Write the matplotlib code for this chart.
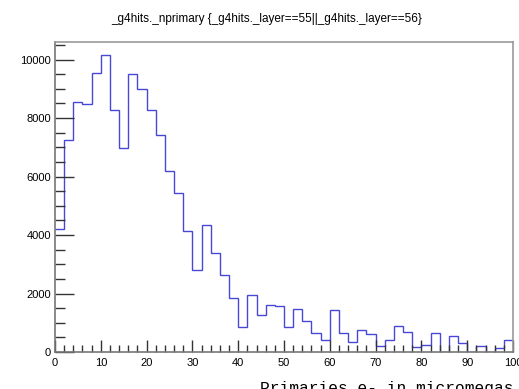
import numpy as np
import matplotlib
matplotlib.use("Agg")
import matplotlib.pyplot as plt
from matplotlib.ticker import MultipleLocator

# histogram: 50 bins of width 2 from 0 to 100
bin_edges = np.arange(0, 101, 2)
counts = [
    4200, 7260, 8550, 8480, 9550, 10150, 8280, 6980, 9510, 9000,
    8280, 7410, 6190, 5420, 4140, 2790, 4350, 3380, 2640, 1860,
    860, 1960, 1270, 1620, 1580, 860, 1480, 1050, 640, 400,
    1440, 650, 350, 740, 620, 220, 400, 900, 700, 160,
    230, 650, 0, 560, 310, 0, 220, 0, 150, 400,
]
title = "_g4hits._nprimary {_g4hits._layer==55||_g4hits._layer==56}"
xlabel = "Primaries e- in micromegas"

plt.rcParams["font.family"] = ["Liberation Sans", "DejaVu Sans"]

fig = plt.figure(figsize=(5.19, 3.89), dpi=100)
ax = fig.add_axes([0.106, 0.0951, 0.8824, 0.7969])

ax.stairs(counts, bin_edges, baseline=None, color="#4848d8", linewidth=1.0)

ax.set_xlim(0, 100)
ax.set_ylim(0, 10600)

ax.xaxis.set_major_locator(MultipleLocator(10))
ax.xaxis.set_minor_locator(MultipleLocator(2))
ax.yaxis.set_major_locator(MultipleLocator(2000))
ax.yaxis.set_minor_locator(MultipleLocator(500))

ax.tick_params(axis="both", which="both", direction="in", colors="#333333",
               labelcolor="black", labelsize=8, width=1.0)
ax.tick_params(axis="y", which="major", length=14, pad=3)
ax.tick_params(axis="y", which="minor", length=7)
ax.tick_params(axis="x", which="major", length=9, pad=4)
ax.tick_params(axis="x", which="minor", length=5)

for side in ["top", "right"]:
    ax.spines[side].set_color("#999999")
    ax.spines[side].set_linewidth(1.2)
for side in ["left", "bottom"]:
    ax.spines[side].set_color("#777777")
    ax.spines[side].set_linewidth(1.2)

fig.text(0.514, 0.952, title, ha="center", va="center", fontsize=8.5)
# axis title runs off the canvas in the original, keep it that way
fig.text(260 / 519, 1 - 381 / 389, xlabel, ha="left", va="top",
         fontsize=11.7, family="Liberation Mono")

fig.savefig("out.png", dpi=100)
